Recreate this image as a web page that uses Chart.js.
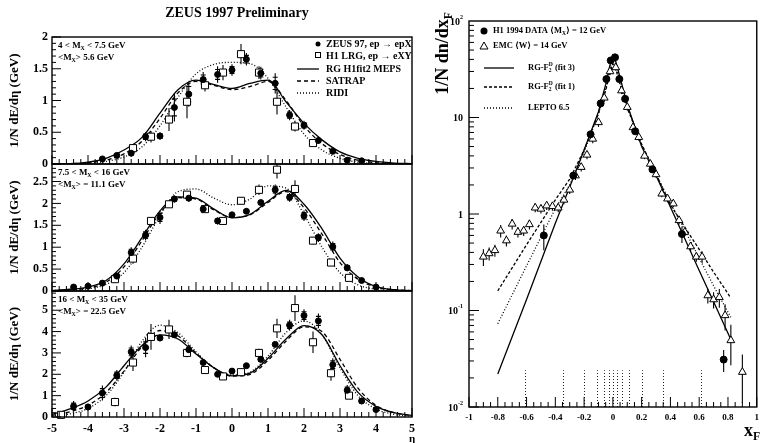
<!DOCTYPE html>
<html>
<head>
<meta charset="utf-8">
<script src="https://cdn.jsdelivr.net/npm/chart.js@4.4.1/dist/chart.umd.min.js"></script>
<style>
  body { margin: 0; background: #fff; }
  #wrap { position: relative; width: 764px; height: 443px; }
  #wrap canvas { position: absolute; left: 0; top: 0; }
</style>
</head>
<body>
<div id="wrap">
  <canvas id="pLow" width="764" height="443"></canvas>
  <canvas id="pMid" width="764" height="443"></canvas>
  <canvas id="pHigh" width="764" height="443"></canvas>
  <canvas id="pXf" width="764" height="443"></canvas>
</div>
<script>
// ---- left: energy flow vs eta, three M_X bins ----
const etaZeus = [-4.4,-4.0,-3.6,-3.2,-2.8,-2.4,-2.0,-1.6,-1.2,-0.8,-0.4,0.0,0.4,0.8,1.2,1.6,2.0,2.4,2.8,3.2,3.6,4.0];
const etaH1 = [-4.75,-4.25,-3.75,-3.25,-2.75,-2.25,-1.75,-1.25,-0.75,-0.25,0.25,0.75,1.25,1.75,2.25,2.75,3.25];
const etaCurve = [-5,-4.5,-4,-3.5,-3,-2.5,-2,-1.5,-1,-0.5,0,0.5,1,1.5,2,2.5,3,3.5,4,4.5,5];

const zeusLow    = [null,null,0.08,0.135,0.17,0.43,0.44,0.89,1.10,1.33,1.41,1.48,1.65,1.43,1.27,0.77,0.61,0.37,0.20,0.06,0.05,null];
const zeusLowErr = [null,null,0.03,0.04,0.05,0.07,0.06,0.22,0.2,0.12,0.13,0.09,0.1,0.1,0.16,0.08,0.07,0.05,0.04,0.03,0.02,null];
const h1Low      = [null,null,null,null,0.25,0.43,0.70,0.98,1.24,1.44,1.73,1.44,0.98,0.59,0.33,null,null];
const h1LowErr   = [null,null,null,null,0.05,0.09,0.18,0.26,0.1,0.12,0.16,0.1,0.2,0.08,0.04,null,null];

const zeusMid    = [0.09,0.11,0.18,0.34,0.88,1.28,1.68,2.10,2.12,1.87,1.60,1.74,1.82,2.02,2.31,2.14,1.72,1.22,1.01,0.53,0.24,0.09];
const zeusMidErr = [0.02,0.03,0.03,0.08,0.12,0.12,0.15,0.08,0.08,0.08,0.08,0.05,0.06,0.06,0.12,0.1,0.12,0.1,0.12,0.08,0.04,0.02];
const h1Mid      = [null,null,null,0.27,0.74,1.60,1.98,2.20,1.87,1.60,2.06,2.31,2.77,2.33,1.15,0.65,0.30];
const h1MidErr   = [null,null,null,0.08,0.12,0.05,0.06,0.05,0.05,0.05,0.08,0.12,0.2,0.2,0.08,0.06,0.05];

const zeusHigh    = [0.50,0.47,1.12,1.95,3.05,3.25,3.70,3.85,3.15,2.55,2.00,2.15,2.40,2.70,3.40,4.30,4.75,4.50,2.45,1.25,0.75,0.35];
const zeusHighErr = [0.25,0.15,0.35,0.25,0.3,0.45,0.15,0.15,0.1,0.1,0.1,0.1,0.1,0.15,0.1,0.25,0.3,0.35,0.3,0.25,0.15,0.1];
const h1High      = [0.10,null,null,0.70,2.55,3.75,4.10,3.00,2.20,1.90,2.10,3.00,4.15,5.10,3.50,2.05,1.00];
const h1HighErr   = [0.05,null,null,0.2,0.4,0.6,0.45,0.2,0.15,0.1,0.1,0.2,0.45,0.6,0.5,0.35,0.15];

const rgLow   = [0,0.005,0.03,0.09,0.22,0.42,0.80,1.17,1.32,1.25,1.19,1.27,1.32,0.98,0.64,0.38,0.19,0.09,0.04,0.015,0.005];
const satLow  = [0,0.004,0.02,0.06,0.16,0.36,0.72,1.12,1.30,1.24,1.17,1.22,1.30,1.00,0.60,0.32,0.15,0.06,0.02,0.005,0];
const ridiLow = [0,0,0.01,0.04,0.11,0.27,0.60,1.05,1.42,1.57,1.60,1.58,1.35,0.90,0.47,0.22,0.09,0.03,0.01,0,0];

const rgMid   = [0.01,0.04,0.09,0.24,0.62,1.22,1.83,2.15,2.12,1.87,1.67,1.75,2.05,2.30,1.98,1.42,0.75,0.32,0.10,0.03,0.01];
const satMid  = [0.01,0.03,0.07,0.20,0.55,1.15,1.78,2.13,2.10,1.85,1.68,1.74,2.02,2.27,1.90,1.30,0.65,0.27,0.09,0.03,0.01];
const ridiMid = [0,0.01,0.05,0.15,0.42,1.00,1.72,2.27,2.33,2.12,1.97,2.10,2.40,2.35,1.75,1.00,0.42,0.14,0.04,0.01,0];

const rgHigh   = [0.12,0.38,0.75,1.40,2.40,3.35,3.85,3.65,2.95,2.30,1.93,2.05,2.75,3.65,4.28,3.85,2.40,1.15,0.50,0.20,0.08];
const satHigh  = [0.08,0.25,0.55,1.15,2.15,3.30,4.05,3.80,3.00,2.30,1.92,2.00,2.65,3.55,4.22,4.00,2.70,1.35,0.55,0.20,0.07];
const ridiHigh = [0.05,0.15,0.40,1.00,2.10,3.55,4.30,3.95,3.05,2.30,1.97,2.10,2.85,3.95,4.50,3.85,2.30,1.00,0.38,0.12,0.04];

// ---- right: xF spectra ----
const h1Xf    = [-0.48,-0.275,-0.155,-0.085,-0.045,-0.015,0.015,0.045,0.085,0.155,0.275,0.48,0.77];
const h1XfVal = [0.6,2.5,6.7,14,25,39,42,25,15.6,7.2,2.9,0.62,0.031];
const h1XfErr = [0.18,0.2,0.4,0.8,1.5,2,2,1.5,0.9,0.4,0.2,0.12,0.008];

const emcXf  = [-0.90,-0.86,-0.82,-0.78,-0.74,-0.70,-0.66,-0.62,-0.58,-0.54,-0.50,-0.46,-0.42,-0.38,-0.34,-0.30,-0.26,-0.22,-0.18,-0.14,
                -0.10,-0.06,-0.02,0.02,0.06,0.10,0.14,0.18,0.22,0.26,0.30,0.34,0.38,0.42,0.46,0.50,0.54,0.58,0.62,0.66,0.70,0.74,0.78,0.82,0.90];
const emcVal = [0.36,0.39,0.42,0.67,0.53,0.79,0.65,0.67,0.78,1.16,1.13,1.22,1.20,1.16,1.40,1.78,2.5,3.06,4.1,6.0,
                8.9,16,30,33,19,12.8,7.9,6.25,4.0,3.3,2.57,1.62,1.44,1.28,0.86,0.65,0.46,0.36,0.36,0.143,0.13,0.137,0.089,0.049,0.023];
const emcErr = [0.07,0.06,0.06,0.1,0.07,0.1,0.08,0.08,0.09,0.12,0.12,0.12,0.12,0.12,0.14,0.17,0.25,0.3,0.4,0.6,
                0.9,1.5,2.5,2.5,1.5,1,0.6,0.5,0.3,0.25,0.2,0.13,0.12,0.1,0.08,0.06,0.05,0.04,0.05,0.025,0.025,0.03,0.027,0.022,0.012];

const xfCurve   = [-0.8,-0.6,-0.4,-0.3,-0.2,-0.1,-0.05,-0.02,0,0.02,0.05,0.1,0.2,0.3,0.4,0.5,0.6,0.7,0.82];
const rgFit3    = [0.022,0.13,0.8,1.9,4.6,11.5,22,35,44,38,26,13.5,5.0,2.5,1.18,0.555,0.26,0.123,0.05];
const rgFit1    = [0.16,0.48,1.4,2.3,4.6,11,19,29,36,32,22,12.5,5.3,2.6,1.25,0.73,0.43,0.25,0.135];
const lepto     = [0.073,0.29,1.14,2.0,4.4,11,20,32,40,35,24,13,5.2,2.6,1.3,0.68,0.35,0.18,0.085];
const binEdges  = [-0.61,-0.35,-0.2,-0.11,-0.06,-0.03,0,0.03,0.06,0.11,0.2,0.35,0.61];

const serif = "'Liberation Serif', 'DejaVu Serif', serif";
Chart.defaults.font.family = serif;
Chart.defaults.color = '#000';

function pts(xs, ys, es) {
  const out = [];
  xs.forEach((x, i) => { if (ys[i] != null) out.push({ x: x, y: ys[i], e: es[i] }); });
  return out;
}
function curve(xs, ys, dash, smooth) {
  return {
    type: 'line', data: xs.map((x, i) => ({ x: x, y: ys[i] })),
    borderColor: '#000', borderWidth: 1.3, borderDash: dash, pointRadius: 0,
    cubicInterpolationMode: smooth ? 'monotone' : 'default', tension: 0, fill: false
  };
}
function markers(data, style, r, fill, statTicks) {
  return {
    type: 'scatter', data: data, withErr: true, statTicks: !!statTicks, pointStyle: style, pointRadius: r,
    backgroundColor: fill, borderColor: '#000', borderWidth: 1, clip: 6
  };
}

// text with sub/superscripts: parts = [text, 'sub'|'sup'|'', keepX]
function rich(ctx, x, y, parts, size) {
  let cx = x;
  for (const p of parts) {
    const m = p[1] || '';
    const s = m ? size * 0.65 : size;
    ctx.font = 'bold ' + s + 'px ' + serif;
    const dy = m === 'sub' ? size * 0.32 : (m === 'sup' ? -size * 0.38 : 0);
    ctx.fillText(p[0], cx, y + dy);
    if (!p[2]) cx += ctx.measureText(p[0]).width;
  }
  return cx - x;
}
function richWidth(ctx, parts, size) {
  let w = 0;
  for (const p of parts) {
    const s = p[1] ? size * 0.65 : size;
    ctx.font = 'bold ' + s + 'px ' + serif;
    if (!p[2]) w += ctx.measureText(p[0]).width;
  }
  return w;
}

const errorBars = {
  id: 'errorBars',
  beforeDatasetsDraw(chart) {
    const { ctx, scales: { x, y } } = chart;
    ctx.save();
    ctx.strokeStyle = '#000';
    ctx.lineWidth = 1.1;
    chart.data.datasets.forEach(ds => {
      if (!ds.withErr) return;
      ds.data.forEach(p => {
        const px = x.getPixelForValue(p.x);
        const lo = Math.max(p.y - p.e, y.min);
        const hi = Math.min(p.y + p.e, y.max);
        ctx.beginPath();
        ctx.moveTo(px, y.getPixelForValue(lo));
        ctx.lineTo(px, y.getPixelForValue(hi));
        if (ds.statTicks) {
          // small crossbars at the statistical part of the error
          [p.y - 0.6 * p.e, p.y + 0.6 * p.e].forEach(v => {
            if (v < y.min || v > y.max) return;
            const py = y.getPixelForValue(v);
            ctx.moveTo(px - 2.5, py); ctx.lineTo(px + 2.5, py);
          });
        }
        ctx.stroke();
      });
    });
    ctx.restore();
  }
};

const panelDeco = {
  id: 'panelDeco',
  afterDraw(chart, args, o) {
    const { ctx, chartArea: a, scales: { x, y } } = chart;
    ctx.save();
    ctx.strokeStyle = '#000';
    ctx.lineWidth = 1.4;
    ctx.strokeRect(a.left, a.top, a.right - a.left, a.bottom - a.top);
    ctx.lineWidth = 1;
    ctx.beginPath();
    for (let k = -50; k <= 50; k += 2) {
      const px = x.getPixelForValue(k / 10);
      const len = k % 10 === 0 ? 9 : 5;
      ctx.moveTo(px, a.bottom); ctx.lineTo(px, a.bottom - len);
    }
    for (let v = 0; v <= y.max + 1e-9; v += o.minor) {
      const py = y.getPixelForValue(v);
      const major = Math.abs(v / o.major - Math.round(v / o.major)) < 1e-6;
      ctx.moveTo(a.left, py); ctx.lineTo(a.left + (major ? 9 : 4), py);
    }
    ctx.stroke();

    ctx.fillStyle = '#000';
    ctx.textBaseline = 'middle';
    ctx.textAlign = 'left';
    rich(ctx, a.left + 6, a.top + 9, o.label1, 9);
    rich(ctx, a.left + 6, a.top + 21, o.label2, 9);

    if (o.legend) {
      const lx = 318, tx = 326;
      ctx.beginPath(); ctx.arc(lx, 44, 2.5, 0, Math.PI * 2); ctx.fill();
      rich(ctx, tx, 44, [['ZEUS 97, ep \u2192 epX']], 10);
      ctx.lineWidth = 1; ctx.strokeRect(lx - 2.5, 52.5, 5, 5);
      rich(ctx, tx, 56, [['H1 LRG, ep \u2192 eXY']], 10);
      const lines = [[69, [], 'RG H1fit2 MEPS'], [81, [4, 3], 'SATRAP'], [93, [1, 2], 'RIDI']];
      lines.forEach(l => {
        ctx.setLineDash(l[1]); ctx.lineWidth = 1.3;
        ctx.beginPath(); ctx.moveTo(297, l[0]); ctx.lineTo(319, l[0]); ctx.stroke();
        ctx.setLineDash([]);
        rich(ctx, tx, l[0], [[l[2]]], 10);
      });
      ctx.textAlign = 'center';
      ctx.font = 'bold 14px ' + serif;
      ctx.fillText('ZEUS 1997 Preliminary', 237, 13);
      ctx.textAlign = 'left';
    }
    if (o.eta) {
      ctx.font = 'bold 11px ' + serif;
      ctx.textAlign = 'center';
      ctx.fillText('\u03b7', 412, 439);
    }
    ctx.restore();
  }
};

function makePanel(id, cfg) {
  return new Chart(document.getElementById(id), {
    type: 'scatter',
    data: {
      datasets: [
        markers(pts(etaZeus, cfg.zeus, cfg.zeusErr), 'circle', 3, '#000', true),
        markers(pts(etaH1, cfg.h1, cfg.h1Err), 'rect', 5, '#fff'),
        curve(etaCurve, cfg.rg, [], true),
        curve(etaCurve, cfg.sat, [4, 3], true),
        curve(etaCurve, cfg.ridi, [1, 2], true)
      ]
    },
    options: {
      responsive: false,
      animation: false,
      events: [],
      layout: { padding: { left: 4, right: 352, top: cfg.top, bottom: cfg.bottom } },
      plugins: {
        legend: { display: false },
        tooltip: { enabled: false },
        panelDeco: { label1: cfg.label1, label2: cfg.label2, legend: cfg.legend, eta: cfg.eta, major: cfg.major, minor: cfg.minor }
      },
      scales: {
        x: {
          type: 'linear', min: -5, max: 5,
          grid: { display: false, drawTicks: false }, border: { display: false },
          ticks: { display: cfg.xLabels, stepSize: 1, padding: 5, maxRotation: 0, autoSkip: false,
                   font: { size: 12, weight: 'bold' } },
          afterFit: s => { s.height = cfg.xh; }
        },
        y: {
          type: 'linear', min: 0, max: cfg.ymax,
          grid: { display: false, drawTicks: false }, border: { display: false },
          ticks: { padding: 4, font: { size: 12, weight: 'bold' }, callback: v => String(v) },
          afterBuildTicks: s => { s.ticks = cfg.yTicks.map(v => ({ value: v })); },
          title: { display: true, text: '1/N dE/d\u03b7 (GeV)', font: { size: 13, weight: 'bold' }, padding: { top: 3, bottom: 0 } },
          afterFit: s => { s.width = 48; }
        }
      }
    },
    plugins: [errorBars, panelDeco]
  });
}

makePanel('pLow', {
  zeus: zeusLow, zeusErr: zeusLowErr, h1: h1Low, h1Err: h1LowErr,
  rg: rgLow, sat: satLow, ridi: ridiLow,
  top: 37, bottom: 279, xh: 0, xLabels: false, ymax: 2, yTicks: [0, 0.5, 1, 1.5, 2], major: 0.5, minor: 0.1,
  label1: [['4 < M'], ['X', 'sub'], [' < 7.5 GeV']],
  label2: [['<M'], ['X', 'sub'], ['> 5.6 GeV']],
  legend: true
});
makePanel('pMid', {
  zeus: zeusMid, zeusErr: zeusMidErr, h1: h1Mid, h1Err: h1MidErr,
  rg: rgMid, sat: satMid, ridi: ridiMid,
  top: 164, bottom: 152, xh: 0, xLabels: false, ymax: 2.9, yTicks: [0, 0.5, 1, 1.5, 2, 2.5], major: 0.5, minor: 0.1,
  label1: [['7.5 < M'], ['X', 'sub'], [' < 16 GeV']],
  label2: [['<M'], ['X', 'sub'], ['> = 11.1 GeV']]
});
makePanel('pHigh', {
  zeus: zeusHigh, zeusErr: zeusHighErr, h1: h1High, h1Err: h1HighErr,
  rg: rgHigh, sat: satHigh, ridi: ridiHigh,
  top: 291, bottom: 0, xh: 26, xLabels: true, ymax: 5.9, yTicks: [0, 1, 2, 3, 4, 5], major: 1, minor: 0.2,
  label1: [['16 < M'], ['X', 'sub'], [' < 35 GeV']],
  label2: [['<M'], ['X', 'sub'], ['> = 22.5 GeV']],
  eta: true
});

// ---- right chart ----
const xfDeco = {
  id: 'xfDeco',
  beforeDatasetsDraw(chart) {
    const { ctx, scales: { x, y } } = chart;
    ctx.save();
    ctx.strokeStyle = '#222';
    ctx.lineWidth = 1;
    ctx.setLineDash([1, 2]);
    binEdges.forEach(b => {
      const px = Math.round(x.getPixelForValue(b)) + 0.5;
      ctx.beginPath();
      ctx.moveTo(px, y.getPixelForValue(0.01));
      ctx.lineTo(px, y.getPixelForValue(0.024));
      ctx.stroke();
    });
    ctx.restore();
  },
  afterDraw(chart) {
    const { ctx, chartArea: a, scales: { x, y } } = chart;
    ctx.save();
    ctx.strokeStyle = '#000';
    ctx.lineWidth = 1.4;
    ctx.strokeRect(a.left, a.top, a.right - a.left, a.bottom - a.top);
    ctx.lineWidth = 1;
    ctx.beginPath();
    for (let d = -2; d <= 1; d++) {
      for (let m = 1; m <= 9; m++) {
        const py = y.getPixelForValue(m * Math.pow(10, d));
        ctx.moveTo(a.left, py); ctx.lineTo(a.left + (m === 1 ? 10 : 5), py);
      }
    }
    for (let k = -20; k <= 20; k++) {
      const px = x.getPixelForValue(k / 20);
      const len = k % 4 === 0 ? 10 : 5;
      ctx.moveTo(px, a.bottom); ctx.lineTo(px, a.bottom - len);
    }
    ctx.stroke();

    ctx.fillStyle = '#000';
    ctx.textBaseline = 'middle';
    // log tick labels
    const yl = [[0.01, '-2'], [0.1, '-1'], [1, ''], [10, ''], [100, '2']];
    yl.forEach(t => {
      const py = y.getPixelForValue(t[0]);
      const base = t[0] === 1 ? '1' : '10';
      ctx.font = 'bold 10px ' + serif;
      const wb = ctx.measureText(base).width;
      ctx.font = 'bold 6px ' + serif;
      const ws = t[1] ? ctx.measureText(t[1]).width : 0;
      const x0 = a.left - 6 - wb - ws;
      ctx.textAlign = 'left';
      ctx.font = 'bold 10px ' + serif;
      ctx.fillText(base, x0, py + 1);
      if (t[1]) { ctx.font = 'bold 6px ' + serif; ctx.fillText(t[1], x0 + wb, py - 4); }
    });

    // axis titles
    const tParts = [['1/N dn/dx'], ['F', 'sub']];
    const tw = richWidth(ctx, tParts, 18);
    ctx.save();
    ctx.translate(443, 12 + tw);
    ctx.rotate(-Math.PI / 2);
    ctx.textAlign = 'left';
    rich(ctx, 0, 0, tParts, 18);
    ctx.restore();
    ctx.textAlign = 'left';
    rich(ctx, 744, 431, [['x'], ['F', 'sub']], 18);

    // legend
    ctx.beginPath(); ctx.arc(484, 31, 3.5, 0, Math.PI * 2); ctx.fill();
    rich(ctx, 493, 31, [['H1 1994 DATA \u27e8M'], ['X', 'sub'], ['\u27e9 = 12 GeV']], 8.5);
    ctx.lineWidth = 1;
    ctx.beginPath(); ctx.moveTo(484, 42); ctx.lineTo(488, 49); ctx.lineTo(480, 49); ctx.closePath(); ctx.stroke();
    rich(ctx, 493, 46, [['EMC \u27e8W\u27e9 = 14 GeV']], 8.5);
    const lines = [[68, [], [['RG-F'], ['2', 'sub', true], ['D', 'sup'], [' (fit 3)']]],
                   [87, [3, 2], [['RG-F'], ['2', 'sub', true], ['D', 'sup'], [' (fit 1)']]],
                   [108, [1, 2], [['LEPTO 6.5']]]];
    lines.forEach(l => {
      ctx.setLineDash(l[1]); ctx.lineWidth = 1.3;
      ctx.beginPath(); ctx.moveTo(484, l[0]); ctx.lineTo(514, l[0]); ctx.stroke();
      ctx.setLineDash([]);
      rich(ctx, 528, l[0], l[2], 8.5);
    });
    ctx.restore();
  }
};

new Chart(document.getElementById('pXf'), {
  type: 'scatter',
  data: {
    datasets: [
      markers(pts(h1Xf, h1XfVal, h1XfErr), 'circle', 3.5, '#000'),
      markers(pts(emcXf, emcVal, emcErr), 'triangle', 4.5, '#fff'),
      curve(xfCurve, rgFit3, [], false),
      curve(xfCurve, rgFit1, [3, 2], false),
      curve(xfCurve, lepto, [1, 2], false)
    ]
  },
  options: {
    responsive: false,
    animation: false,
    events: [],
    layout: { padding: { left: 469, right: 1, top: 21, bottom: 0 } },
    plugins: { legend: { display: false }, tooltip: { enabled: false } },
    scales: {
      x: {
        type: 'linear', min: -1, max: 1,
        grid: { display: false, drawTicks: false }, border: { display: false },
        ticks: { stepSize: 0.2, padding: 5, maxRotation: 0, autoSkip: false, font: { size: 9, weight: 'bold' },
                 callback: v => String(Math.round(v * 10) / 10) },
        afterFit: s => { s.height = 36; }
      },
      y: {
        type: 'logarithmic', min: 0.01, max: 100,
        grid: { display: false, drawTicks: false }, border: { display: false },
        ticks: { display: false },
        afterFit: s => { s.width = 0; }
      }
    }
  },
  plugins: [errorBars, xfDeco]
});
</script>
</body>
</html>
